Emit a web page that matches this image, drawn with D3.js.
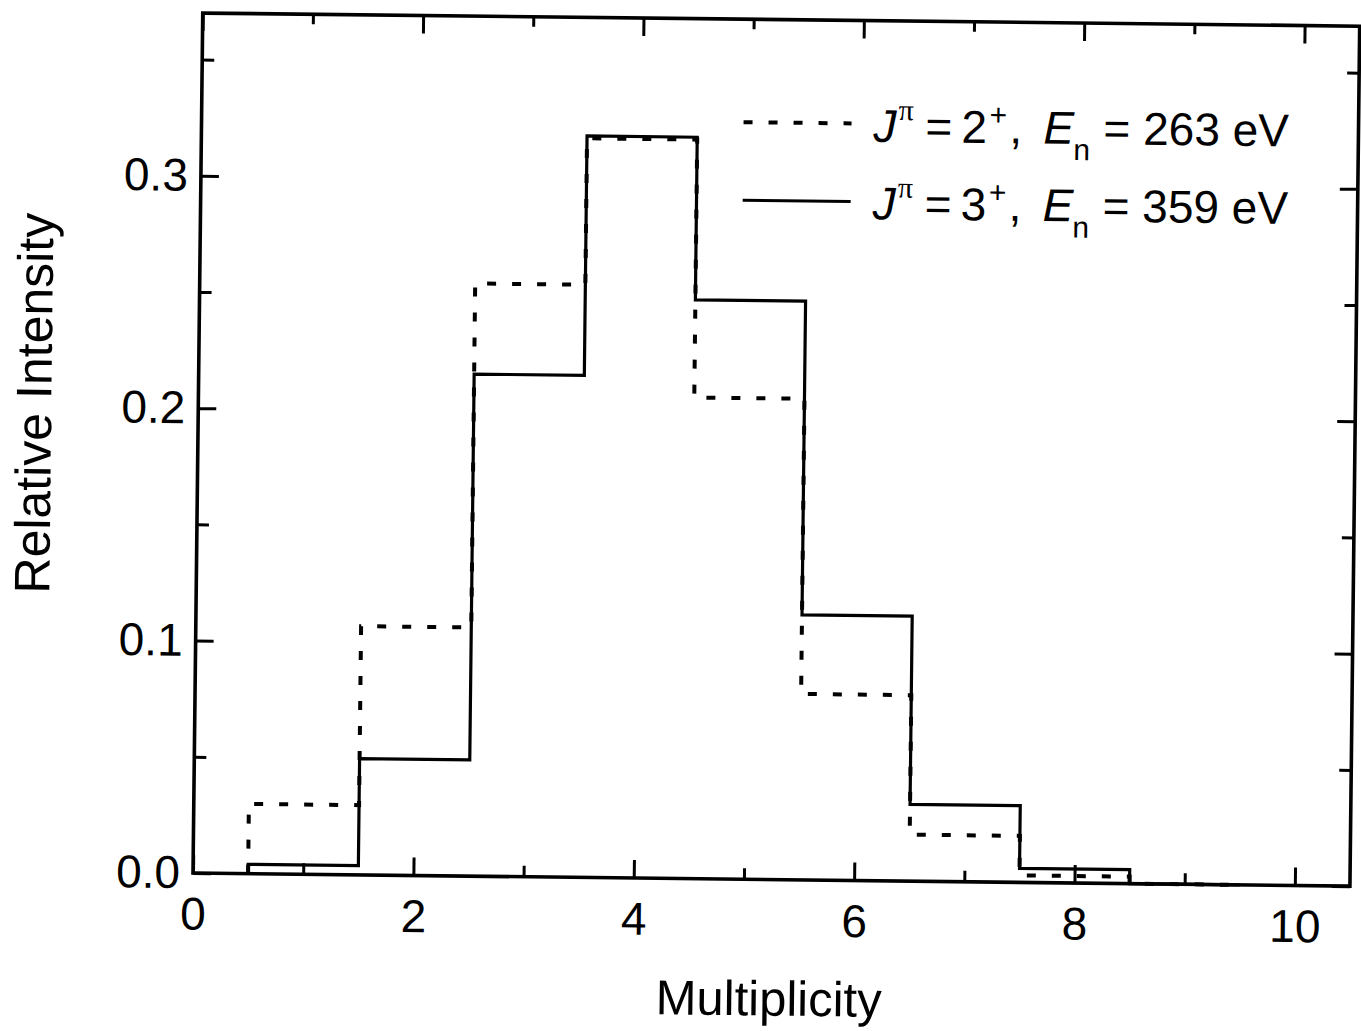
<!DOCTYPE html>
<html>
<head>
<meta charset="utf-8">
<script src="https://cdn.jsdelivr.net/npm/d3@7"></script>
<style>
  html, body { margin: 0; padding: 0; background: #fff; }
  svg { display: block; }
  text { font-family: "Liberation Sans", Arial, Helvetica, sans-serif; fill: #000; }
</style>
</head>
<body>
<svg id="chart" width="1361" height="1031"></svg>
<script>
// ---- data ----
const multiplicity = [1, 2, 3, 4, 5, 6, 7, 8, 9];
const seriesJ2 = [0.030, 0.107, 0.255, 0.318, 0.207, 0.080, 0.020, 0.003, 0.000]; // J^pi = 2+, En = 263 eV (dashed)
const seriesJ3 = [0.004, 0.050, 0.216, 0.319, 0.249, 0.114, 0.033, 0.006, 0.000]; // J^pi = 3+, En = 359 eV (solid)
const xMajorTicks = [0, 2, 4, 6, 8, 10];
const xMinorTicks = [1, 3, 5, 7, 9];
const yMajorTicks = [0.0, 0.1, 0.2, 0.3];
const yMinorTicks = [0.05, 0.15, 0.25, 0.35];
const legendRows = [
  { spin: "2", energy: "263", dash: true },
  { spin: "3", energy: "359", dash: false }
];

// ---- layout ----
const svg = d3.select("#chart");
const L = 193, T = 13, W = 1157, H = 860;
const tilt = 0.65; // scan is slightly rotated

const root = svg.append("g")
  .attr("transform", `rotate(${tilt}, ${L}, ${T + H})`);

const x = d3.scaleLinear().domain([0, 10.5]).range([L, L + W]);
const y = d3.scaleLinear().domain([0, 0.37]).range([T + H, T]);

const tickFont = 46;

// bottom axis
const gB = root.append("g").attr("transform", `translate(0,${T + H})`);
gB.call(d3.axisBottom(x).tickValues(xMajorTicks).tickSize(-18).tickPadding(24).tickFormat(d3.format("d")));
gB.append("g").call(d3.axisBottom(x).tickValues(xMinorTicks).tickSize(-11).tickFormat(""));
// top axis
const gT = root.append("g").attr("transform", `translate(0,${T})`);
gT.call(d3.axisTop(x).tickValues(xMajorTicks).tickSize(-18).tickFormat(""));
gT.append("g").call(d3.axisTop(x).tickValues(xMinorTicks).tickSize(-10).tickFormat(""));
// left axis
const gL = root.append("g").attr("transform", `translate(${L},0)`);
gL.call(d3.axisLeft(y).tickValues(yMajorTicks).tickSize(-18).tickPadding(13).tickFormat(d3.format(".1f")));
gL.append("g").call(d3.axisLeft(y).tickValues(yMinorTicks).tickSize(-12).tickFormat(""));
// right axis
const gR = root.append("g").attr("transform", `translate(${L + W},0)`);
gR.call(d3.axisRight(y).tickValues(yMajorTicks).tickSize(-18).tickFormat(""));
gR.append("g").call(d3.axisRight(y).tickValues(yMinorTicks).tickSize(-12).tickFormat(""));

root.selectAll(".domain").remove();
root.selectAll(".tick line").attr("stroke", "#000").attr("stroke-width", 3);
root.selectAll(".tick text").style("font-size", tickFont + "px").attr("fill", "#000");

// frame
root.append("rect")
  .attr("x", L).attr("y", T).attr("width", W).attr("height", H)
  .attr("fill", "none").attr("stroke", "#000").attr("stroke-width", 3.6);

// histogram step paths
function stepPoints(vals) {
  const pts = [[multiplicity[0] - 0.5, 0]];
  multiplicity.forEach((c, i) => {
    pts.push([c - 0.5, vals[i]]);
    pts.push([c + 0.5, vals[i]]);
  });
  pts.push([multiplicity[multiplicity.length - 1] + 0.5, 0]);
  return pts;
}
const line = d3.line().x(d => x(d[0])).y(d => y(d[1]));

root.append("path")
  .attr("d", line(stepPoints(seriesJ3)))
  .attr("fill", "none").attr("stroke", "#000").attr("stroke-width", 3.2)
  .attr("stroke-linejoin", "miter");

root.append("path")
  .attr("d", line(stepPoints(seriesJ2)))
  .attr("fill", "none").attr("stroke", "#000").attr("stroke-width", 4)
  .attr("stroke-dasharray", "9,16");

// legend
const legendY = [116, 194];
const baseY = [134, 211.5];
legendRows.forEach((r, i) => {
  const g = root.append("g");
  const x0 = 735, x1 = 843;
  g.append("line")
    .attr("x1", x0).attr("x2", x1).attr("y1", legendY[i]).attr("y2", legendY[i])
    .attr("stroke", "#000").attr("stroke-width", r.dash ? 4 : 3)
    .attr("stroke-dasharray", r.dash ? "9,16" : null);
  const tx = 865, by = baseY[i];
  const t = g.append("text").style("font-size", "46px").attr("y", by);
  t.append("tspan").attr("x", tx).style("font-style", "italic").text("J");
  t.append("tspan").attr("x", tx + 25).attr("y", by - 22)
    .style("font-family", "'Liberation Serif', 'DejaVu Serif', serif").style("font-size", "30px").text("π");
  t.append("tspan").attr("x", tx + 52).attr("y", by).text("=");
  t.append("tspan").attr("x", tx + 88).attr("y", by).text(r.spin);
  t.append("tspan").attr("x", tx + 116).attr("y", by - 18).style("font-size", "30px").text("+");
  t.append("tspan").attr("x", tx + 136).attr("y", by).text(",");
  t.append("tspan").attr("x", tx + 170).attr("y", by).style("font-style", "italic").text("E");
  t.append("tspan").attr("x", tx + 200).attr("y", by + 16).style("font-size", "30px").text("n");
  t.append("tspan").attr("x", tx + 230).attr("y", by).text("= " + r.energy + " eV");
});

// axis titles
root.append("text")
  .attr("x", 770).attr("y", 1009)
  .attr("text-anchor", "middle").style("font-size", "49px")
  .text("Multiplicity");

root.append("text")
  .attr("transform", "translate(46,405) rotate(-90)")
  .attr("text-anchor", "middle").style("font-size", "50px")
  .text("Relative Intensity");
</script>
</body>
</html>
